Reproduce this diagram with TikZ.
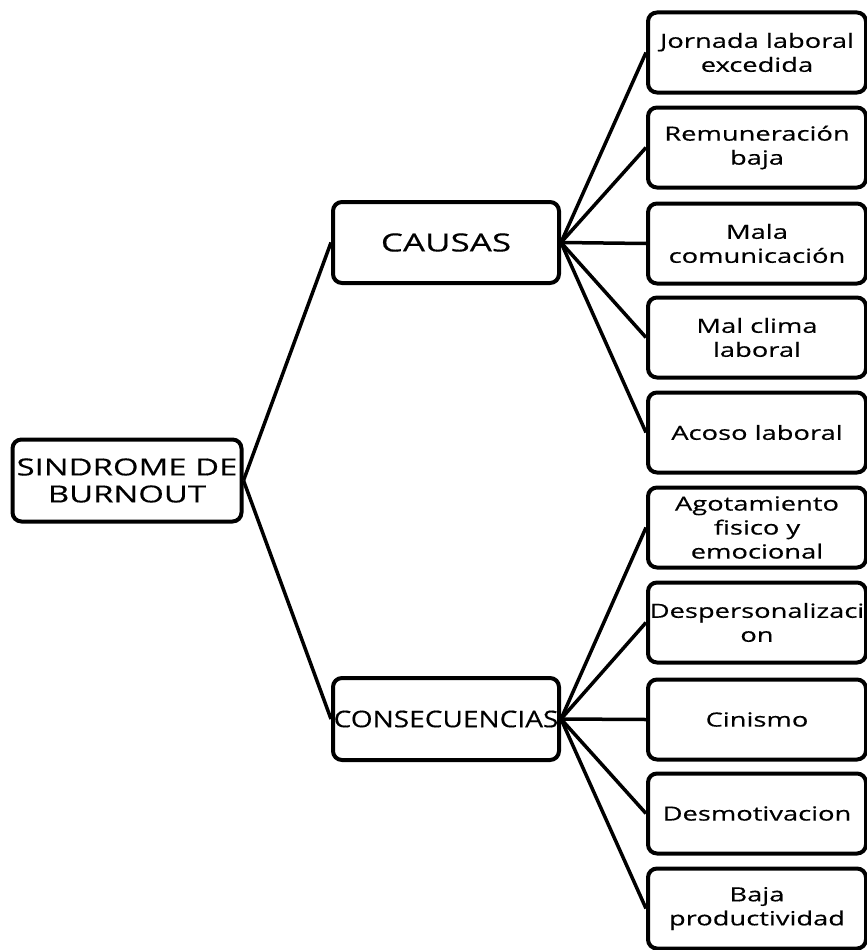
\documentclass[tikz,border=0pt]{standalone}
\usepackage{fontspec}
\setmainfont{Open Sans}
\newfontfamily\wideA[FakeStretch=1.4,FakeBold=0.4]{Open Sans}
\newfontfamily\wideB[FakeStretch=1.22,FakeBold=0.4]{Open Sans}
\begin{document}
\begin{tikzpicture}[x=1pt,y=-1pt,
  box/.style={draw=black, line width=4pt, rounded corners=9pt, fill=white, inner sep=0pt, align=center, font=\wideA\fontsize{19.5}{24}\selectfont},
  link/.style={draw=black, line width=3.5pt}]
\useasboundingbox (0,0) rectangle (867,950);
\clip (0,0) rectangle (867,950);
% connectors (drawn under boxes)
\coordinate (rootE) at (242,480.5);
\coordinate (causasW) at (333,242.5);
\coordinate (consW) at (333,719);
% main nodes
\node[box, minimum width=229pt, minimum height=82pt, font=\wideA\fontsize{23.5}{27}\selectfont] (root) at (127,480.5) {SINDROME DE\\BURNOUT};
\node[box, minimum width=226pt, minimum height=81pt, font=\wideA\fontsize{25}{28}\selectfont] (causas) at (446,242.5) {CAUSAS};
\node[box, minimum width=226pt, minimum height=82pt, font=\wideB\fontsize{23}{26}\selectfont] (cons) at (446,719) {CONSECUENCIAS};
% right boxes
\foreach \n/\t/\txt in {
  c1/12/{Jornada laboral\\excedida},
  c2/107/{Remuneración\\baja},
  c3/203/{Mala\\comunicación},
  c4/297/{Mal clima\\laboral},
  c5/392/{Acoso laboral},
  k1/487/{Agotamiento\\fisico y\\emocional},
  k2/582/{Despersonalizaci\\on},
  k3/679/{Cinismo},
  k4/773/{Desmotivacion},
  k5/868/{Baja\\productividad}}{
  \node[box, minimum width=218pt, minimum height=80pt] (\n) at (757,\t+40.5) {\txt};
}
\draw[link] (root.east) -- (causas.west);
\draw[link] (root.east) -- (cons.west);
\foreach \n in {c1,c2,c3,c4,c5}{\draw[link] (causas.east) -- (\n.west);}
\foreach \n in {k1,k2,k3,k4,k5}{\draw[link] (cons.east) -- (\n.west);}
\end{tikzpicture}
\end{document}
